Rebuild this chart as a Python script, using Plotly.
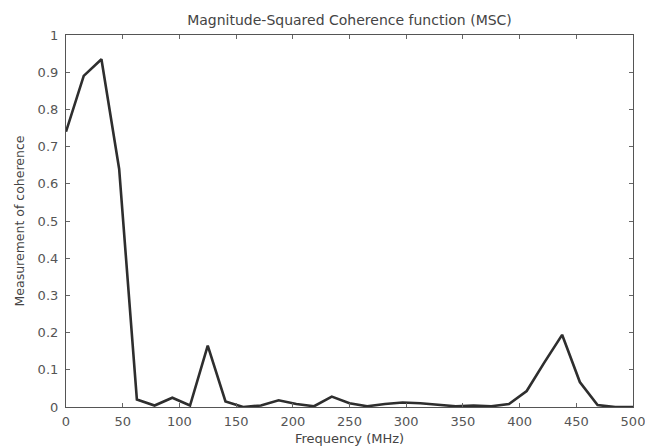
import plotly.graph_objects as go

# Frequency bins (MHz) and the magnitude-squared coherence at each bin
freq_mhz = [i * 15.625 for i in range(33)]
msc = [0.74, 0.89, 0.935, 0.64, 0.02, 0.004, 0.025, 0.004, 0.165, 0.015,
       0.0, 0.004, 0.018, 0.008, 0.002, 0.028, 0.01, 0.002, 0.008, 0.012,
       0.01, 0.005, 0.002, 0.004, 0.002, 0.008, 0.043, 0.12, 0.194, 0.067,
       0.005, 0.0, 0.0]

x_ticks = [0, 50, 100, 150, 200, 250, 300, 350, 400, 450, 500]
y_ticks = [0, 0.1, 0.2, 0.3, 0.4, 0.5, 0.6, 0.7, 0.8, 0.9, 1]
y_tick_text = ["0", "0.1", "0.2", "0.3", "0.4", "0.5", "0.6", "0.7", "0.8", "0.9", "1"]

FONT = "DejaVu Sans, Verdana, sans-serif"

fig = go.Figure(
    go.Scatter(
        x=freq_mhz, y=msc, mode="lines",
        line=dict(color="#2e2e2e", width=2.6),
        hoverinfo="skip",
    )
)

axis_common = dict(
    showgrid=False, zeroline=False, showline=True, mirror="ticks",
    linecolor="#555555", linewidth=1.2, ticks="inside", ticklen=4,
    tickcolor="#666666", automargin=False, ticklabeloverflow="allow",
    tickfont=dict(family=FONT, size=13, color="#555555"),
)

fig.update_layout(
    width=645, height=447,
    margin=dict(l=66, r=12, t=35, b=40),
    paper_bgcolor="white", plot_bgcolor="white",
    showlegend=False,
    title=dict(
        text="Magnitude-Squared Coherence function (MSC)",
        x=0.5, xanchor="center", xref="paper", y=0.955, yanchor="middle",
        font=dict(family=FONT, size=14, color="#444444"),
    ),
    xaxis=dict(
        range=[0, 500], tickvals=x_ticks, ticklabelstandoff=2,
        title=dict(text="Frequency (MHz)", standoff=6,
                   font=dict(family=FONT, size=13, color="#444444")),
        **axis_common,
    ),
    yaxis=dict(
        range=[0, 1], tickvals=y_ticks, ticktext=y_tick_text, ticklabelstandoff=4,
        title=dict(text="Measurement of coherence", standoff=10,
                   font=dict(family=FONT, size=12.5, color="#444444")),
        **axis_common,
    ),
)

fig.write_html("out.html")
